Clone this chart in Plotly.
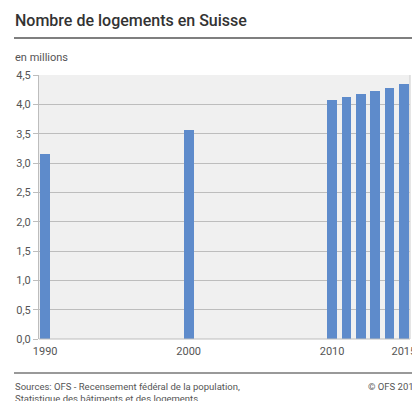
import plotly.graph_objects as go

years = [1990, 2000, 2010, 2011, 2012, 2013, 2014, 2015]
logements = [3.16, 3.57, 4.07, 4.12, 4.17, 4.22, 4.28, 4.34]
x_ticks = [1990, 2000, 2010, 2015]
y_ticks = [0, 0.5, 1.0, 1.5, 2.0, 2.5, 3.0, 3.5, 4.0, 4.5]

W, H = 412, 401
L, R, T, B = 39, 410, 75, 339

def px(x):
    return (x - L) / (R - L)

def py(y):
    return (B - y) / (B - T)

fig = go.Figure()
fig.add_trace(go.Bar(x=years, y=logements, width=0.68,
                     marker=dict(color="#5e8bcb", line=dict(width=0)),
                     hoverinfo="x+y"))

fig.update_layout(
    width=W, height=H,
    margin=dict(l=L, r=W - R, t=T, b=H - B, pad=0, autoexpand=False),
    paper_bgcolor="white", plot_bgcolor="#f0f0f0",
    font=dict(family="Roboto", color="#666666", size=11),
    separators=", ",
    showlegend=False,
    bargap=0,
    xaxis=dict(range=[1989.57, 2015.43], tickvals=x_ticks, ticktext=[str(v) for v in x_ticks],
               showgrid=False, zeroline=False, showline=False, ticks="",
               ticklabeloverflow="allow", automargin=False,
               tickfont=dict(size=11, color="#555555"), ticklabelstandoff=4),
    yaxis=dict(range=[0, 4.5], tickvals=y_ticks, tickformat=".1f", automargin=False,
               showgrid=True, gridcolor="#bdbdbd", gridwidth=1,
               zeroline=False, showline=True, linecolor="#bdbdbd", linewidth=1,
               ticks="outside", ticklen=5, tickcolor="#bdbdbd",
               tickfont=dict(size=11, color="#555555")),
    shapes=[
        dict(type="line", xref="paper", yref="paper", x0=px(14), x1=px(412), y0=py(38), y1=py(38),
             line=dict(color="#555555", width=1.5)),
        dict(type="line", xref="paper", yref="paper", x0=px(14), x1=px(412), y0=py(373), y1=py(373),
             line=dict(color="#777777", width=1.5)),
        dict(type="line", xref="paper", yref="paper", x0=0, x1=1, y0=0, y1=0,
             line=dict(color="#bdbdbd", width=1)),
        dict(type="line", xref="paper", yref="paper", x0=1, x1=1, y0=0, y1=1,
             line=dict(color="#cccccc", width=1)),
    ],
    annotations=[
        dict(text="Nombre de logements en Suisse", xref="paper", yref="paper",
             x=px(13), y=py(21), xanchor="left", yanchor="middle", showarrow=False,
             font=dict(size=16, color="#333333", weight=500)),
        dict(text="en millions", xref="paper", yref="paper",
             x=px(13), y=py(58), xanchor="left", yanchor="middle", showarrow=False,
             font=dict(size=11, color="#555555")),
        dict(text="Sources: OFS - Recensement fédéral de la population,<br>Statistique des bâtiments et des logements",
             xref="paper", yref="paper", x=px(13), y=py(379), xanchor="left", yanchor="top",
             align="left", showarrow=False, font=dict(size=9.5, color="#555555")),
        dict(text="© OFS 2016", xref="paper", yref="paper", x=px(366), y=py(379),
             xanchor="left", yanchor="top", showarrow=False, font=dict(size=9.5, color="#555555")),
    ],
)

fig.write_html("out.html", config={"displayModeBar": False},
               post_script="document.body.style.margin='0';document.body.style.overflow='hidden';")
